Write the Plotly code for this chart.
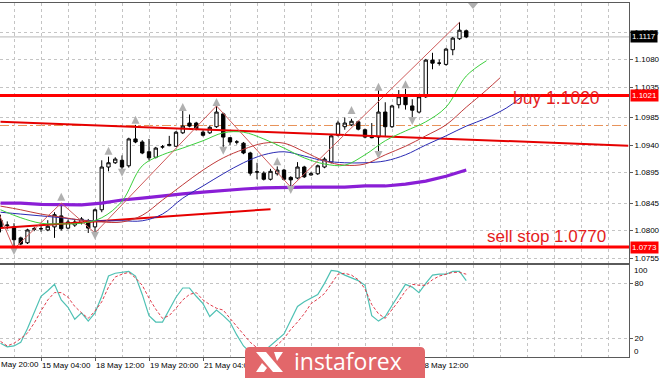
import plotly.graph_objects as go

# ---------------- data (H4 bars, bar index 0 = 13 May 20:00) ----------------
bars = list(range(2, 72))
opens = [1.0817, 1.0808, 1.0806, 1.0788, 1.0780, 1.0802, 1.0803, 1.0801, 1.0806, 1.0824,
         1.0804, 1.0809, 1.0813, 1.0816, 1.0806, 1.0834, 1.0904, 1.0911, 1.0915, 1.0906,
         1.0950, 1.0945, 1.0929, 1.0920, 1.0937, 1.0939, 1.0938, 1.0960, 1.0976, 1.0976,
         1.0961, 1.0960, 1.0970, 1.0991, 1.0952, 1.0945, 1.0943, 1.0927, 1.0896, 1.0894,
         1.0884, 1.0893, 1.0899, 1.0887, 1.0886, 1.0904, 1.0891, 1.0893, 1.0904, 1.0912,
         1.0956, 1.0970, 1.0973, 1.0978, 1.0965, 1.0952, 1.0953, 1.0994, 1.0970, 1.1006,
         1.1019, 1.1004, 1.0994, 1.1019, 1.1079, 1.1074, 1.1072, 1.1096, 1.1114, 1.1127]
highs = [1.0826, 1.0815, 1.0812, 1.0790, 1.0803, 1.0806, 1.0807, 1.0817, 1.0830, 1.0845,
         1.0818, 1.0819, 1.0822, 1.0819, 1.0836, 1.0915, 1.0921, 1.0920, 1.0923, 1.0952,
         1.0973, 1.0948, 1.0950, 1.0937, 1.0940, 1.0955, 1.0963, 1.0997, 1.0990, 1.0978,
         1.0964, 1.0972, 1.1004, 1.0993, 1.0953, 1.0948, 1.0945, 1.0929, 1.0911, 1.0897,
         1.0901, 1.0905, 1.0901, 1.0889, 1.0912, 1.0906, 1.0896, 1.0908, 1.0920, 1.0958,
         1.0980, 1.0985, 1.0983, 1.0980, 1.0967, 1.0976, 1.1030, 1.1010, 1.1006, 1.1030,
         1.1032, 1.1015, 1.1021, 1.1081, 1.1091, 1.1080, 1.1099, 1.1117, 1.1141, 1.1129]
lows = [1.0797, 1.0802, 1.0770, 1.0776, 1.0778, 1.0799, 1.0798, 1.0799, 1.0788, 1.0800,
        1.0802, 1.0806, 1.0810, 1.0796, 1.0796, 1.0830, 1.0897, 1.0909, 1.0896, 1.0903,
        1.0943, 1.0925, 1.0915, 1.0918, 1.0934, 1.0938, 1.0937, 1.0958, 1.0969, 1.0964,
        1.0954, 1.0958, 1.0968, 1.0935, 1.0940, 1.0941, 1.0925, 1.0890, 1.0884, 1.0882,
        1.0882, 1.0890, 1.0882, 1.0871, 1.0884, 1.0886, 1.0890, 1.0891, 1.0902, 1.0910,
        1.0954, 1.0965, 1.0971, 1.0964, 1.0951, 1.0951, 1.0929, 1.0953, 1.0968, 1.1000,
        1.0998, 1.0984, 1.0992, 1.1017, 1.1064, 1.1070, 1.1070, 1.1087, 1.1112, 1.1115]
closes = [1.0804, 1.0809, 1.0785, 1.0778, 1.0801, 1.0803, 1.0803, 1.0807, 1.0826, 1.0803,
          1.0814, 1.0814, 1.0819, 1.0804, 1.0834, 1.0904, 1.0911, 1.0917, 1.0904, 1.0950,
          1.0945, 1.0927, 1.0919, 1.0935, 1.0937, 1.0941, 1.0961, 1.0971, 1.0971, 1.0966,
          1.0956, 1.0969, 1.0994, 1.0953, 1.0945, 1.0945, 1.0927, 1.0894, 1.0896, 1.0884,
          1.0897, 1.0899, 1.0884, 1.0883, 1.0904, 1.0888, 1.0893, 1.0906, 1.0917, 1.0955,
          1.0976, 1.0976, 1.0979, 1.0966, 1.0953, 1.0953, 1.0994, 1.0970, 1.1004, 1.1019,
          1.1006, 1.0997, 1.1019, 1.1079, 1.1074, 1.1074, 1.1097, 1.1115, 1.1128, 1.1117]

# Alligator (shifted forward) and long MA
lips_bars = [2, 5, 8, 11, 14, 17, 20, 23, 26, 29, 32, 35, 38, 41, 44, 47, 50, 53, 56, 59, 62, 65, 68, 71, 74]
lips_vals = [1.0834, 1.0821, 1.0812, 1.0811, 1.0812, 1.0821, 1.0848, 1.0906, 1.0924, 1.0935,
             1.0947, 1.0960, 1.0961, 1.0950, 1.0935, 1.0919, 1.0909, 1.0907, 1.0924, 1.0947,
             1.0963, 1.0978, 1.1002, 1.1053, 1.1078]
teeth_bars = [2, 5, 8, 11, 14, 17, 20, 23, 26, 29, 32, 35, 38, 41, 44, 47, 50, 53, 56, 59, 62, 65, 68, 71, 74, 76]
teeth_vals = [1.0840, 1.0834, 1.0827, 1.0822, 1.0817, 1.0814, 1.0814, 1.0825, 1.0850, 1.0875,
              1.0899, 1.0919, 1.0933, 1.0943, 1.0943, 1.0929, 1.0914, 1.0907, 1.0909, 1.0924,
              1.0938, 1.0955, 1.0973, 1.1002, 1.1030, 1.1050]
jaw_bars = [2, 5, 8, 11, 14, 17, 20, 23, 26, 29, 32, 35, 38, 41, 44, 47, 50, 53, 56, 59, 62, 65, 68, 71, 74, 77, 79]
jaw_vals = [1.0830, 1.0827, 1.0824, 1.0821, 1.0817, 1.0816, 1.0816, 1.0816, 1.0827, 1.0853,
            1.0873, 1.0893, 1.0911, 1.0924, 1.0929, 1.0922, 1.0914, 1.0911, 1.0911, 1.0914,
            1.0924, 1.0940, 1.0955, 1.0971, 1.0984, 1.1001, 1.1017]
ma_bars = [2, 5, 8, 11, 14, 17, 20, 23, 26, 29, 32, 35, 38, 41, 44, 47, 50, 53, 56, 59, 62, 65, 68, 71]
ma_vals = [1.0845, 1.0845, 1.0843, 1.0843, 1.0842, 1.0845, 1.0850, 1.0853, 1.0857, 1.0860,
           1.0863, 1.0866, 1.0868, 1.0870, 1.0871, 1.0871, 1.0871, 1.0871, 1.0873, 1.0873,
           1.0876, 1.0881, 1.0889, 1.0899]

zigzag_bars = [-1, 4, 11, 16, 34, 45, 70]
zigzag_vals = [1.0899, 1.0770, 1.0845, 1.0796, 1.1004, 1.0871, 1.1141]

fractal_up_bars = [11, 18, 22, 29, 34, 43, 54, 58, 62]
fractal_up_vals = [1.0862, 1.0937, 1.0988, 1.1009, 1.1017, 1.0920, 1.1004, 1.1042, 1.1046]
fractal_dn_bars = [4, 16, 20, 35, 45, 58, 63]
fractal_dn_vals = [1.0760, 1.0785, 1.0888, 1.0924, 1.0860, 1.0917, 1.0973]

# Stochastic %K / %D
stoch_k = [15, 11, 12, 16, 31, 48, 66, 72, 79, 62, 54, 41, 48, 39, 48, 66, 88, 91, 92, 93,
           88, 68, 45, 38, 38, 52, 65, 75, 75, 66, 58, 44, 51, 45, 38, 24, 12, 5, 3, 6,
           12, 18, 25, 40, 55, 60, 64, 68, 80, 94, 93, 89, 86, 83, 78, 45, 39, 44, 56, 67,
           79, 76, 70, 80, 89, 90, 90, 93, 93, 83]
stoch_d = [17, 12, 15, 20, 26, 37, 50, 62, 70, 70, 65, 55, 48, 42, 50, 60, 76, 87, 90, 92,
           86, 78, 64, 52, 42, 45, 53, 62, 68, 70, 62, 57, 53, 51, 42, 33, 24, 16, 10, 6,
           8, 13, 20, 30, 38, 47, 58, 63, 69, 80, 90, 91, 89, 84, 74, 57, 47, 42, 51, 61,
           72, 79, 78, 78, 84, 88, 90, 92, 92, 90]

# levels / trend lines
buy_level = 1.1021
sell_level = 1.0773
buy_text = "buy 1.1020"
sell_text = "sell stop 1.0770"
orange_level = 1.0972
upper_trend_bars = [2, 95]
upper_trend_vals = [1.0978, 1.0939]
lower_trend_bars = [2, 42]
lower_trend_vals = [1.0804, 1.0835]

price_ticks = [1.1125, 1.1080, 1.1035, 1.0985, 1.0940, 1.0895, 1.0845, 1.0800, 1.0755]
# labels of 22 May 12:00, 25 May 20:00 and 27 May 04:00 are fully covered by the watermark
time_tick_bars = [8, 16, 24, 32, 40, 48, 56, 64]
time_tick_text = ["15 May 04:00", "18 May 12:00", "19 May 20:00", "21 May 04:00",
                  "", "", "", "28 May 12:00"]
first_time_bar = 0
first_time_text = "13 May 20:00"

# ---------------- figure ----------------
X_RANGE = [1.926, 95.11]
Y_RANGE = [1.07469, 1.11725]
GRID = "#c4c4c4"
FONT = "Liberation Sans"
AX = "#5a5a5a"
PW, PH, BOT = 629.0, 354.0, 357.0
BAR_PX = PW / (X_RANGE[1] - X_RANGE[0])


def px(x):
    return x / PW


def py(y):
    return (BOT - y) / PH


fig = go.Figure()

fig.add_trace(go.Candlestick(
    x=bars, open=opens, high=highs, low=lows, close=closes,
    increasing=dict(line=dict(color="black", width=1), fillcolor="white"),
    decreasing=dict(line=dict(color="black", width=1), fillcolor="black"),
    whiskerwidth=0, hoverinfo="skip", showlegend=False, xaxis="x", yaxis="y"))

# trend lines
fig.add_trace(go.Scatter(x=upper_trend_bars, y=upper_trend_vals, mode="lines",
                         line=dict(color="#e60000", width=2), xaxis="x", yaxis="y", hoverinfo="skip"))
fig.add_trace(go.Scatter(x=lower_trend_bars, y=lower_trend_vals, mode="lines",
                         line=dict(color="#e60000", width=2), xaxis="x", yaxis="y", hoverinfo="skip"))

fig.add_trace(go.Scatter(x=ma_bars, y=ma_vals, mode="lines",
                         line=dict(color="#8a1ed6", width=3.2), xaxis="x", yaxis="y", hoverinfo="skip"))
fig.add_trace(go.Scatter(x=jaw_bars, y=jaw_vals, mode="lines", line_shape="spline",
                         line=dict(color="#2a2ab4", width=1), xaxis="x", yaxis="y", hoverinfo="skip"))
fig.add_trace(go.Scatter(x=teeth_bars, y=teeth_vals, mode="lines", line_shape="spline",
                         line=dict(color="#c03a3a", width=1), xaxis="x", yaxis="y", hoverinfo="skip"))
fig.add_trace(go.Scatter(x=lips_bars, y=lips_vals, mode="lines", line_shape="spline",
                         line=dict(color="#3ccf3c", width=1), xaxis="x", yaxis="y", hoverinfo="skip"))
fig.add_trace(go.Scatter(x=zigzag_bars, y=zigzag_vals, mode="lines",
                         line=dict(color="#cf5c5c", width=1), xaxis="x", yaxis="y", hoverinfo="skip"))
fig.add_trace(go.Scatter(x=fractal_up_bars, y=fractal_up_vals, mode="markers",
                         marker=dict(symbol="arrow-up", size=8, color="#b0b0b0"),
                         xaxis="x", yaxis="y", hoverinfo="skip"))
fig.add_trace(go.Scatter(x=fractal_dn_bars, y=fractal_dn_vals, mode="markers",
                         marker=dict(symbol="arrow-down", size=8, color="#b0b0b0"),
                         xaxis="x", yaxis="y", hoverinfo="skip"))

# stochastic
fig.add_trace(go.Scatter(x=bars, y=stoch_k, mode="lines", line=dict(color="#4fc1b4", width=1.2),
                         xaxis="x2", yaxis="y2", hoverinfo="skip"))
fig.add_trace(go.Scatter(x=bars, y=stoch_d, mode="lines", line=dict(color="#e03a4a", width=1, dash="3px,2px"),
                         xaxis="x2", yaxis="y2", hoverinfo="skip"))

shapes = []
# horizontal levels
shapes.append(dict(type="line", xref="paper", yref="y", x0=0, x1=1, y0=closes[-1], y1=closes[-1],
                   line=dict(color="#b8b8b8", width=1), layer="below"))
shapes.append(dict(type="line", xref="paper", yref="y", x0=0, x1=1, y0=orange_level, y1=orange_level,
                   line=dict(color="#e8925a", width=1, dash="dashdot"), layer="below"))
shapes.append(dict(type="line", xref="paper", yref="y", x0=0, x1=1, y0=buy_level, y1=buy_level,
                   line=dict(color="#ff0000", width=3), layer="above"))
shapes.append(dict(type="line", xref="paper", yref="y", x0=0, x1=1, y0=sell_level, y1=sell_level,
                   line=dict(color="#ff0000", width=3), layer="above"))

# chart-shift marker
shapes.append(dict(type="path", xref="paper", yref="paper",
                   path=f"M {px(468)},{py(3)} L {px(478)},{py(3)} L {px(473)},{py(9)} Z",
                   fillcolor="#b0b0b0", line=dict(width=0), layer="above"))

# watermark
x0, x1, yt, yb, r = px(245), px(425), py(347), py(382), 5
rx, ry = r / PW, r / PH
shapes.append(dict(type="path", xref="paper", yref="paper",
                   path=(f"M {x0},{yb} L {x0},{yt - ry} Q {x0},{yt} {x0 + rx},{yt} "
                         f"L {x1 - rx},{yt} Q {x1},{yt} {x1},{yt - ry} L {x1},{yb} Z"),
                   fillcolor="#e2676a", line=dict(width=0), layer="above"))
# logo
shapes.append(dict(type="path", xref="paper", yref="paper",
                   path=(f"M {px(256)},{py(352)} L {px(266)},{py(352)} L {px(283)},{py(372)} "
                         f"L {px(273)},{py(372)} Z"),
                   fillcolor="white", line=dict(width=0), layer="above"))
shapes.append(dict(type="path", xref="paper", yref="paper",
                   path=(f"M {px(256)},{py(372)} L {px(262)},{py(363)} L {px(267)},{py(368)} "
                         f"L {px(264)},{py(372)} Z"),
                   fillcolor="white", line=dict(width=0), layer="above"))
shapes.append(dict(type="path", xref="paper", yref="paper",
                   path=(f"M {px(274)},{py(352)} L {px(283)},{py(352)} L {px(277)},{py(361)} Z"),
                   fillcolor="white", line=dict(width=0), layer="above"))

annotations = []
for val, bg in [(closes[-1], "black"), (buy_level, "#ff0000"), (sell_level, "#ff0000")]:
    annotations.append(dict(xref="paper", yref="y", x=1.0, y=val, xanchor="left", yanchor="middle",
                            xshift=1, text=f"{val:.4f}", showarrow=False, bgcolor=bg,
                            font=dict(family=FONT, size=8, color="white"), borderpad=1))
annotations.append(dict(xref="paper", yref="y", x=px(556), y=1.1017, text=buy_text, showarrow=False,
                        xanchor="center", yanchor="middle",
                        font=dict(family=FONT, size=17.5, color="#e41d1d")))
annotations.append(dict(xref="paper", yref="y", x=px(546), y=1.0791, text=sell_text, showarrow=False,
                        xanchor="center", yanchor="middle",
                        font=dict(family=FONT, size=17, color="#e41d1d")))
annotations.append(dict(xref="paper", yref="y2", x=1.0, y=100, text="100", showarrow=False,
                        xanchor="left", yanchor="middle", xshift=3, yshift=-5,
                        font=dict(family=FONT, size=8, color="black")))
annotations.append(dict(xref="paper", yref="y2", x=1.0, y=0, text="0", showarrow=False,
                        xanchor="left", yanchor="middle", xshift=3, yshift=6,
                        font=dict(family=FONT, size=8, color="black")))
annotations.append(dict(xref="paper", yref="paper",
                        x=(first_time_bar - X_RANGE[0]) * BAR_PX / PW, y=py(364), text=first_time_text,
                        showarrow=False, xanchor="left", yanchor="middle", xshift=1,
                        font=dict(family=FONT, size=8, color="black")))
annotations.append(dict(xref="paper", yref="paper", x=px(348), y=py(361), text="instaforex",
                        showarrow=False, xanchor="center", yanchor="middle",
                        font=dict(family="Open Sans", size=23, color="white")))

fig.update_layout(
    width=665, height=378, margin=dict(l=0, r=36, t=3, b=21, autoexpand=False),
    paper_bgcolor="white", plot_bgcolor="white", showlegend=False,
    shapes=shapes, annotations=annotations,
    xaxis=dict(domain=[0, 1], anchor="y", range=X_RANGE, rangeslider=dict(visible=False),
               showticklabels=False, ticks="", tick0=0, dtick=4, showgrid=True, automargin=False,
               gridcolor=GRID, griddash="3px,3px", gridwidth=1,
               showline=True, mirror=True, linecolor=AX, linewidth=1, zeroline=False),
    yaxis=dict(domain=[(BOT - 263) / PH, 1], anchor="x", side="right", range=Y_RANGE,
               tickvals=price_ticks, ticktext=[f"{v:.4f}" for v in price_ticks],
               ticks="outside", ticklen=3, tickcolor=AX, automargin=False,
               tickfont=dict(family=FONT, size=8, color="black"),
               showgrid=True, gridcolor=GRID, griddash="3px,3px",
               showline=True, linecolor=AX, linewidth=1, zeroline=False),
    xaxis2=dict(domain=[0, 1], anchor="y2", matches="x", range=X_RANGE,
                rangeslider=dict(visible=False), automargin=False,
                tickvals=time_tick_bars, ticktext=time_tick_text, tickangle=0,
                ticks="outside", ticklen=3, tickcolor=AX, ticklabelposition="outside right",
                tickfont=dict(family=FONT, size=8, color="black"),
                showgrid=True, gridcolor=GRID, griddash="3px,3px",
                minor=dict(tick0=0, dtick=4, showgrid=True, gridcolor=GRID, griddash="3px,3px", ticklen=0),
                showline=True, mirror=True, linecolor=AX, linewidth=1, zeroline=False),
    yaxis2=dict(domain=[0, (BOT - 265) / PH], anchor="x2", side="right", range=[0, 100],
                tickvals=[20, 80], ticktext=["20", "80"], automargin=False,
                ticks="outside", ticklen=3, tickcolor=AX,
                tickfont=dict(family=FONT, size=8, color="black"),
                showgrid=True, gridcolor=GRID, griddash="3px,3px",
                showline=True, linecolor=AX, linewidth=1, zeroline=False),
)

fig.write_html("out.html", config={"displayModeBar": False, "staticPlot": True},
               post_script="document.body.style.margin='0px';document.body.style.padding='0px';"
                           "document.documentElement.style.overflow='hidden';")
